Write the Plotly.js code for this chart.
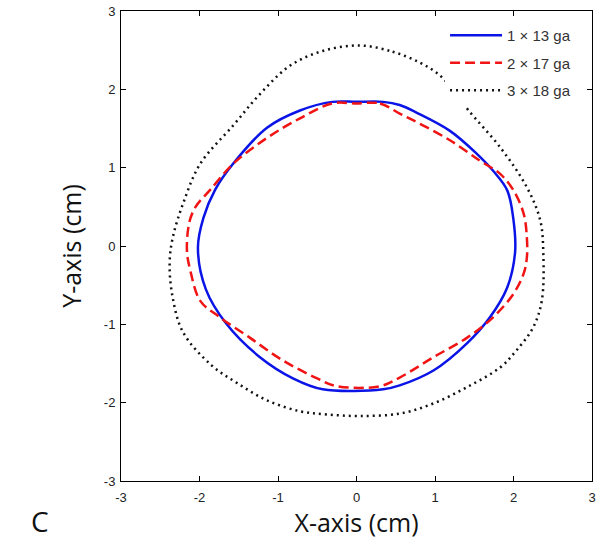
<!DOCTYPE html>
<html>
<head>
<meta charset="utf-8">
<script src="https://cdn.plot.ly/plotly-3.0.1.min.js"></script>
<style>
  html, body { margin: 0; padding: 0; background: #fff; }
  #chart { width: 600px; height: 540px; }
</style>
</head>
<body>
<div id="chart"></div>
<script>
// Contours (cm), going clockwise from the top
const blueX = [0, 0.34, 0.55, 0.77, 1.19, 1.53, 1.74, 1.92, 2.0, 2.02, 1.92, 1.70, 1.41, 0.98, 0.55, 0.34, -0.43, -0.81, -1.23, -1.66, -1.92, -2.02, -1.95, -1.80, -1.58, -1.14, -0.72, -0.31, 0];
const blueY = [1.84, 1.84, 1.80, 1.70, 1.47, 1.18, 0.96, 0.71, 0.33, -0.08, -0.53, -0.91, -1.24, -1.59, -1.78, -1.83, -1.83, -1.69, -1.42, -0.99, -0.55, -0.02, 0.36, 0.72, 1.04, 1.51, 1.73, 1.84, 1.84];

const redX = [0, 0.30, 0.55, 0.77, 1.19, 1.57, 1.83, 2.0, 2.13, 2.17, 2.17, 2.13, 2.0, 1.74, 1.41, 0.98, 0.55, 0.30, -0.25, -0.50, -0.94, -1.36, -1.74, -1.99, -2.12, -2.16, -2.13, -2.05, -1.87, -1.57, -1.14, -0.72, -0.31, 0];
const redY = [1.82, 1.82, 1.69, 1.58, 1.35, 1.09, 0.92, 0.71, 0.41, 0.11, -0.15, -0.35, -0.61, -0.91, -1.17, -1.42, -1.68, -1.79, -1.79, -1.69, -1.46, -1.17, -0.91, -0.70, -0.30, -0.06, 0.30, 0.50, 0.71, 1.05, 1.38, 1.63, 1.82, 1.82];

const blackX = [0.04, 0.46, 0.81, 1.06, 1.25, 1.42, 1.83, 2.17, 2.34, 2.38, 2.36, 2.25, 2.04, 1.83, 1.41, 0.98, 0.55, 0.04, -0.38, -0.72, -1.14, -1.52, -1.85, -2.21, -2.35, -2.38, -2.34, -2.21, -1.99, -1.57, -1.23, -0.85, -0.43, 0.04];
const blackY = [2.56, 2.48, 2.34, 2.18, 1.97, 1.74, 1.26, 0.75, 0.33, -0.10, -0.70, -1.04, -1.33, -1.55, -1.80, -2.01, -2.14, -2.17, -2.15, -2.11, -1.97, -1.75, -1.52, -1.10, -0.61, -0.20, 0.11, 0.54, 1.05, 1.54, 1.94, 2.30, 2.49, 2.56];

const seriesNames = ["1 \u00d7 13 ga", "2 \u00d7 17 ga", "3 \u00d7 18 ga"];
const tickVals = [-3, -2, -1, 0, 1, 2, 3];
const tickText = ["-3", "-2", "-1", "0", "1", "2", "3"];

const mk = (x, y, name, color, dash, group) => ({
  x, y, name,
  type: 'scatter',
  mode: 'lines',
  legendgroup: group,
  line: { color, width: 2.5, dash, shape: 'spline', smoothing: 1 }
});

const data = [
  mk(blueX, blueY, seriesNames[0], '#0a14e6', 'solid', 'a'),
  mk(redX, redY, seriesNames[1], '#f01414', '10px,5px', 'b'),
  mk(blackX, blackY, seriesNames[2], '#111111', '2px,4px', 'c')
];

const axisBase = {
  range: [-3, 3],
  tickvals: tickVals,
  ticktext: tickText,
  ticks: 'inside',
  ticklen: 5,
  tickcolor: '#000',
  showline: true,
  linecolor: '#000',
  linewidth: 1,
  mirror: 'ticks',
  showgrid: false,
  zeroline: false,
  tickfont: { family: 'Liberation Sans, Arial, sans-serif', size: 13, color: '#222' }
};

const layout = {
  width: 600,
  height: 540,
  paper_bgcolor: '#fff',
  plot_bgcolor: '#fff',
  margin: { l: 121, r: 8, t: 11, b: 59 },
  showlegend: true,
  legend: {
    x: 0.688, y: 0.983, xanchor: 'left', yanchor: 'top',
    bgcolor: '#fff',
    borderwidth: 0,
    itemwidth: 52,
    tracegroupgap: 5,
    font: { family: 'Liberation Sans, Arial, sans-serif', size: 15, color: '#333' }
  },
  xaxis: {
    ...axisBase,
    ticklabelstandoff: 4,
    title: { text: 'X-axis (cm)', standoff: 6, font: { family: 'Open Sans, sans-serif', size: 25, color: '#111' } }
  },
  yaxis: {
    ...axisBase,
    ticklabelstandoff: 2,
    title: { text: 'Y-axis (cm)', standoff: 15, font: { family: 'Open Sans, sans-serif', size: 25, color: '#111' } }
  },
  annotations: [{
    text: 'C', xref: 'paper', yref: 'paper', x: -0.172, y: -0.085,
    xanchor: 'center', yanchor: 'middle', showarrow: false,
    font: { family: 'Open Sans, sans-serif', size: 28, color: '#111' }
  }]
};

Plotly.newPlot('chart', data, layout, { displayModeBar: false, staticPlot: true });
</script>
</body>
</html>
